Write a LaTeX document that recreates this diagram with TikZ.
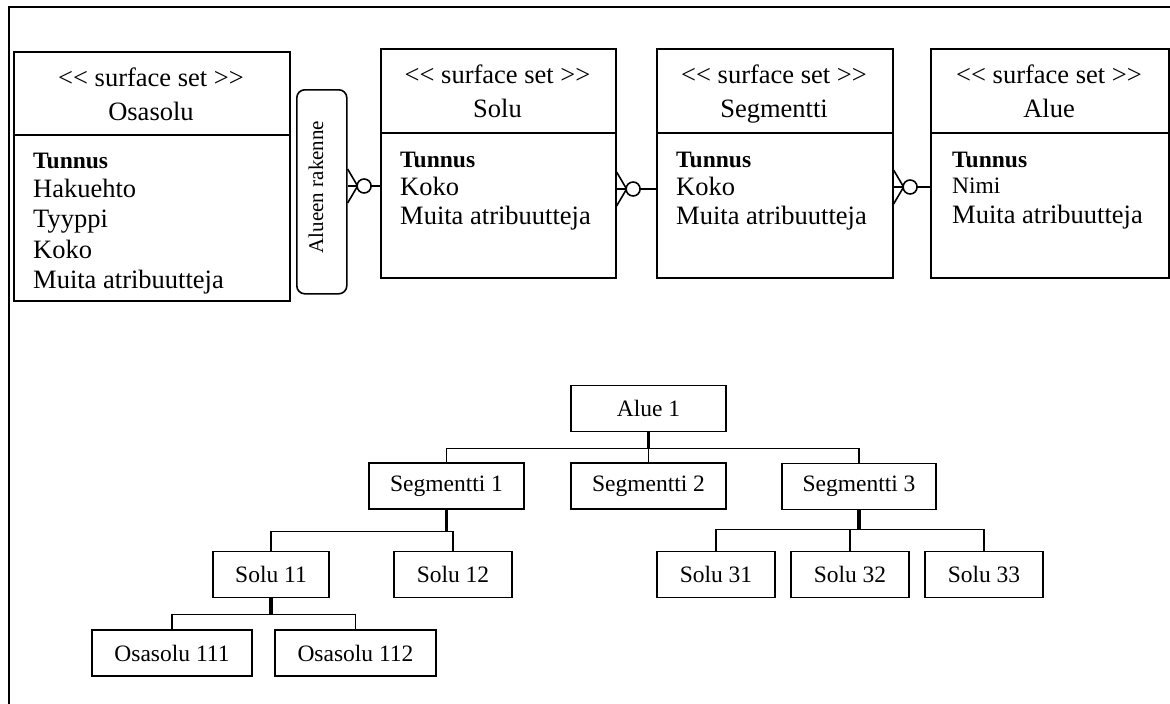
\documentclass[tikz,border=0pt]{standalone}
\usepackage{fontspec}
\setmainfont{Liberation Serif}[Ligatures=TeXOff]
\begin{document}
\begin{tikzpicture}[x=1pt,y=-1pt,
  frame/.style={line width=1.6pt},
  rel/.style={line width=1.6pt},
  entity/.style={draw,line width=1.6pt,anchor=north west,inner sep=0pt},
  hdr/.style={anchor=base,inner sep=0pt,font=\fontsize{26.5}{30}\selectfont},
  attr/.style={anchor=base west,inner sep=0pt,font=\fontsize{26.5}{30}\selectfont},
  keyattr/.style={anchor=base west,inner sep=0pt,font=\fontsize{23.5}{28}\selectfont\bfseries},
  smallattr/.style={anchor=base west,inner sep=0pt,font=\fontsize{23.5}{28}\selectfont},
  item/.style={draw,line width=1.6pt,minimum height=46pt,inner sep=0pt,font=\fontsize{23.5}{28}\selectfont},
  link/.style={line width=1.2pt},
  stem/.style={line width=3.4pt},
  crowfoot/.pic={
    \draw[rel] (0,-17) -- (10,0) -- (0,17);
    \draw[rel,fill=white] (16.5,0) circle[radius=7pt];
  },
]
\useasboundingbox (0,0) rectangle (1170,704);

% outer frame
\draw[frame] (9,704) -- (9,7) -- (1170,7);

% ---------- entity classes ----------
\node[entity,minimum width=276pt,minimum height=249pt] (osasolu) at (13,51) {};
\draw[rel] ([yshift=-84pt]osasolu.north west) -- ([yshift=-84pt]osasolu.north east);
\node[hdr] at (151,86) {<< surface set >>};
\node[hdr] at (151,120) {Osasolu};
\node[keyattr] at (33,168) {Tunnus};
\node[attr] at (33,197) {Hakuehto};
\node[attr] at (33,227) {Tyyppi};
\node[attr] at (33,258) {Koko};
\node[attr] at (33,288) {Muita atribuutteja};

\node[draw,rel,rounded corners=8pt,anchor=north west,minimum width=50pt,minimum height=204pt,inner sep=0pt] (rakenne) at (296,89) {};
\node[rotate=90,anchor=base,inner sep=0pt,font=\fontsize{21}{24}\selectfont] at (323,187) {Alueen rakenne};

\node[entity,minimum width=235pt,minimum height=229pt] (solu) at (380,48) {};
\draw[rel] ([yshift=-85pt]solu.north west) -- ([yshift=-85pt]solu.north east);
\node[hdr] at (497.5,83) {<< surface set >>};
\node[hdr] at (497.5,117) {Solu};
\node[keyattr] at (400,167) {Tunnus};
\node[attr] at (400,195) {Koko};
\node[attr] at (400,224) {Muita atribuutteja};

\node[entity,minimum width=236pt,minimum height=229pt] (segmentti) at (656,48) {};
\draw[rel] ([yshift=-85pt]segmentti.north west) -- ([yshift=-85pt]segmentti.north east);
\node[hdr] at (774,83) {<< surface set >>};
\node[hdr] at (774,117) {Segmentti};
\node[keyattr] at (676,167) {Tunnus};
\node[attr] at (676,195) {Koko};
\node[attr] at (676,224) {Muita atribuutteja};

\node[entity,minimum width=238pt,minimum height=229pt] (alue) at (930,48) {};
\draw[rel] ([yshift=-85pt]alue.north west) -- ([yshift=-85pt]alue.north east);
\node[hdr] at (1049,83) {<< surface set >>};
\node[hdr] at (1049,117) {Alue};
\node[keyattr] at (952,167) {Tunnus};
\node[smallattr] at (952,193) {Nimi};
\node[attr] at (952,223) {Muita atribuutteja};

% ---------- relationships (zero-or-many ends) ----------
\draw[rel] (rakenne.east |- 0,186) -- (solu.west |- 0,186);
\pic at (rakenne.east |- 0,186) {crowfoot};
\draw[rel] (solu.east |- 0,189) -- (segmentti.west |- 0,189);
\pic at (solu.east |- 0,189) {crowfoot};
\draw[rel] (segmentti.east |- 0,187) -- (alue.west |- 0,187);
\pic at (segmentti.east |- 0,187) {crowfoot};

% ---------- instance hierarchy ----------
\node[item,minimum width=155pt] (alue1) at (648.5,408.5) {Alue 1};
\node[item,minimum width=155pt] (seg1) at (446.5,486) {Segmentti 1};
\node[item,minimum width=155pt] (seg2) at (648.5,486) {Segmentti 2};
\node[item,minimum width=154pt] (seg3) at (859,486.5) {Segmentti 3};
\node[item,minimum width=116pt] (solu11) at (271,574.5) {Solu 11};
\node[item,minimum width=118pt] (solu12) at (453,574.5) {Solu 12};
\node[item,minimum width=118pt] (solu31) at (716,574.5) {Solu 31};
\node[item,minimum width=118pt] (solu32) at (850,574.5) {Solu 32};
\node[item,minimum width=118pt] (solu33) at (984,574.5) {Solu 33};
\node[item,minimum width=160pt] (osa111) at (172,653) {Osasolu 111};
\node[item,minimum width=161pt] (osa112) at (355.5,653) {Osasolu 112};

\draw[stem] (alue1.south) -- ++(0,16) coordinate (j1);
\draw[link] (j1) -| (seg1.north);
\draw[link] (j1) -- (seg2.north);
\draw[link] (j1) -| (seg3.north);

\draw[stem] (seg1.south) -- ++(0,22) coordinate (j2);
\draw[link] (j2) -| (solu11.north);
\draw[link] (j2) -| (solu12.north);

\draw[stem] (seg3.south) -- ++(0,19) coordinate (j3);
\draw[link] (j3) -| (solu31.north);
\draw[link] (j3) -| (solu32.north);
\draw[link] (j3) -| (solu33.north);

\draw[stem] (solu11.south) -- ++(0,16) coordinate (j4);
\draw[link] (j4) -| (osa111.north);
\draw[link] (j4) -| (osa112.north);
\end{tikzpicture}
\end{document}
